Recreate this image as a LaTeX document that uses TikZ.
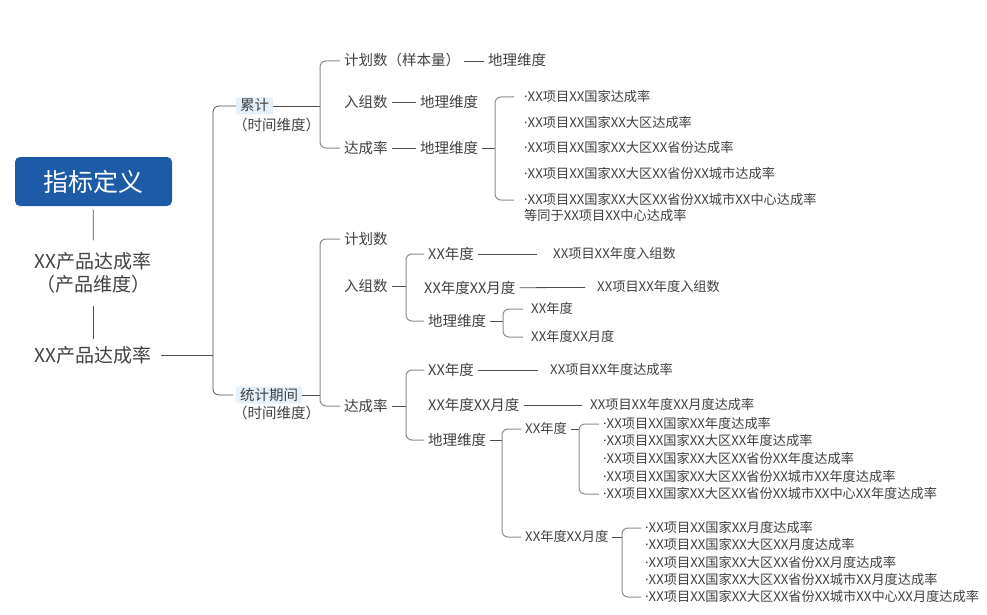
\documentclass[tikz,border=0pt]{standalone}
\usepackage{fontspec}
\setmainfont{Noto Sans CJK SC}
\newfontfamily\dotfont{Noto Sans}
\newcommand{\mdot}{{\dotfont ·}}
\usetikzlibrary{positioning}
\definecolor{headblue}{HTML}{1D5BA7}
\definecolor{tagbg}{HTML}{E5F1FA}
\definecolor{txtgray}{HTML}{404040}
\definecolor{linegray}{HTML}{4D4D4D}
\definecolor{brkgray}{HTML}{8C8C8C}

\begin{document}
\begin{tikzpicture}[x=1pt, y=-1pt,
	head/.style={rectangle, fill=headblue, rounded corners=5pt, minimum width=157pt, minimum height=49pt, text=white, font=\fontsize{25}{30}\selectfont},
	big/.style={text=txtgray, align=center, inner xsep=4pt, font=\fontsize{19}{23}\selectfont},
	lbl/.style={anchor=west, text=txtgray, inner xsep=4pt, inner ysep=1pt, text height=12.5pt, text depth=2.5pt, font=\fontsize{14.5}{17}\selectfont},
	sml/.style={lbl, text height=11.3pt, text depth=2.2pt, font=\fontsize{13.2}{16}\selectfont},
	tag/.style={lbl, fill=tagbg, rounded corners=2pt},
	link/.style={draw=linegray, line width=0.8pt},
	brk/.style={draw=brkgray, line width=1pt, rounded corners=6pt}
]
	\useasboundingbox (0,0) rectangle (987,615);

	\coordinate (b0) at (213,0);
	\coordinate (b1) at (320,0);
	\coordinate (b2) at (495,0);
	\coordinate (b4) at (406,0);
	\coordinate (b5) at (503,0);
	\coordinate (b6) at (502,0);
	\coordinate (b7) at (579,0);
	\coordinate (b8) at (622,0);

	\node[head] (zb) at (93.5,181.5) {指标定义};
	\node[big, inner ysep=12pt] (pd) at (93,273) {XX产品达成率\\（产品维度）};
	\node[big, inner ysep=7pt] (cp) at (93,355) {XX产品达成率};

	\node[tag] (lj) at (236,106) {累计};
	\node[lbl] (lj2) at (229,125) {（时间维度）};
	\node[tag] (tj) at (236,395) {统计期间};
	\node[lbl] (tj2) at (229,413) {（时间维度）};

	\node[lbl] (jh1) at (340,61) {计划数（样本量）};
	\node[lbl] (dl1) at (484,61) {地理维度};
	\node[lbl] (rz1) at (340,102) {入组数};
	\node[lbl] (dl2) at (416,102) {地理维度};
	\node[lbl] (dc1) at (340,148) {达成率};
	\node[lbl] (dl3) at (416,148) {地理维度};
	\node[sml] (a1) at (520,97) {\mdot XX项目XX国家达成率};
	\node[sml] (a2) at (520,123) {\mdot XX项目XX国家XX大区达成率};
	\node[sml] (a3) at (520,148) {\mdot XX项目XX国家XX大区XX省份达成率};
	\node[sml] (a4) at (520,174) {\mdot XX项目XX国家XX大区XX省份XX城市达成率};
	\node[sml] (a5) at (520,200) {\mdot XX项目XX国家XX大区XX省份XX城市XX中心达成率};
	\node[sml] (a6) at (520,216) {等同于XX项目XX中心达成率};

	\node[lbl] (jh2) at (340,239) {计划数};
	\node[lbl] (rz2) at (340,286) {入组数};
	\node[lbl] (n1) at (424,254) {XX年度};
	\node[sml] (r1) at (549,254) {XX项目XX年度入组数};
	\node[lbl] (n2) at (420,288) {XX年度XX月度};
	\node[sml] (r2) at (593,287) {XX项目XX年度入组数};
	\node[lbl] (n3) at (424,321) {地理维度};
	\node[sml] (m1) at (527,309) {XX年度};
	\node[sml] (m2) at (527,337) {XX年度XX月度};

	\node[lbl] (dc2) at (340,406) {达成率};
	\node[lbl] (n4) at (424,370) {XX年度};
	\node[sml] (r3) at (546,370) {XX项目XX年度达成率};
	\node[lbl] (n5) at (424,405) {XX年度XX月度};
	\node[sml] (r4) at (586,405) {XX项目XX年度XX月度达成率};
	\node[lbl] (n6) at (424,440) {地理维度};
	\node[sml] (y1) at (521,429) {XX年度};
	\node[sml] (p1) at (599,424) {\mdot XX项目XX国家XX年度达成率};
	\node[sml] (p2) at (599,441) {\mdot XX项目XX国家XX大区XX年度达成率};
	\node[sml] (p3) at (599,459) {\mdot XX项目XX国家XX大区XX省份XX年度达成率};
	\node[sml] (p4) at (599,477) {\mdot XX项目XX国家XX大区XX省份XX城市XX年度达成率};
	\node[sml] (p5) at (599,494) {\mdot XX项目XX国家XX大区XX省份XX城市XX中心XX年度达成率};
	\node[sml] (y2) at (521,537) {XX年度XX月度};
	\node[sml] (q1) at (641,528) {\mdot XX项目XX国家XX月度达成率};
	\node[sml] (q2) at (641,545) {\mdot XX项目XX国家XX大区XX月度达成率};
	\node[sml] (q3) at (641,563) {\mdot XX项目XX国家XX大区XX省份XX月度达成率};
	\node[sml] (q4) at (641,580) {\mdot XX项目XX国家XX大区XX省份XX城市XX月度达成率};
	\node[sml] (q5) at (641,597) {\mdot XX项目XX国家XX大区XX省份XX城市XX中心XX月度达成率};

	\draw[link, shorten <=4pt] (zb) -- (pd);
	\draw[link] (pd) -- (cp);
	\draw[link, shorten <=5pt] (cp.east) -- (cp.east -| b0);
	\draw[brk, draw=linegray, line width=0.8pt, shorten >=3pt] (lj.west) -- (lj.west -| b0) -- (tj.west -| b0) -- (tj.west);

	\draw[link] (lj.east) -- (lj.east -| b1);
	\draw[brk] (jh1.west) -- (jh1.west -| b1) -- (dc1.west -| b1) -- (dc1.west);
	\draw[link] (jh1) -- (dl1);
	\draw[link] (rz1) -- (dl2);
	\draw[link] (dc1) -- (dl3);
	\draw[link] (dl3.east) -- (dl3.east -| b2);
	\draw[brk, shorten <=6pt, shorten >=6pt] (a1.west) -- (a1.west -| b2) -- (a5.west -| b2) -- (a5.west);

	\draw[link] (tj.east) -- (tj.east -| b1);
	\draw[brk] (jh2.west) -- (jh2.west -| b1) -- (dc2.west -| b1) -- (dc2.west);
	\draw[link] (rz2.east) -- (rz2.east -| b4);
	\draw[brk] (n1.west) -- (n1.west -| b4) -- (n3.west -| b4) -- (n3.west);
	\draw[link, shorten >=12pt] (n1) -- (r1);
	\draw[link, shorten >=8pt] (n2) -- (r2);
	\draw[link] (n3.east) -- (n3.east -| b5);
	\draw[brk, shorten <=4pt, shorten >=4pt] (m1.west) -- (m1.west -| b5) -- (m2.west -| b5) -- (m2.west);

	\draw[link] (dc2.east) -- (dc2.east -| b4);
	\draw[brk] (n4.west) -- (n4.west -| b4) -- (n6.west -| b4) -- (n6.west);
	\draw[link, shorten >=8pt] (n4) -- (r3);
	\draw[link, shorten >=4pt] (n5) -- (r4);
	\draw[link] (n6.east) -- (n6.east -| b6);
	\draw[brk] (y1.west) -- (y1.west -| b6) -- (y2.west -| b6) -- (y2.west);
	\draw[link] (y1.east) -- (y1.east -| b7);
	\draw[brk] (p1.west) -- (p1.west -| b7) -- (p5.west -| b7) -- (p5.west);
	\draw[link] (y2.east) -- (y2.east -| b8);
	\draw[brk] (q1.west) -- (q1.west -| b8) -- (q5.west -| b8) -- (q5.west);
\end{tikzpicture}
\end{document}
